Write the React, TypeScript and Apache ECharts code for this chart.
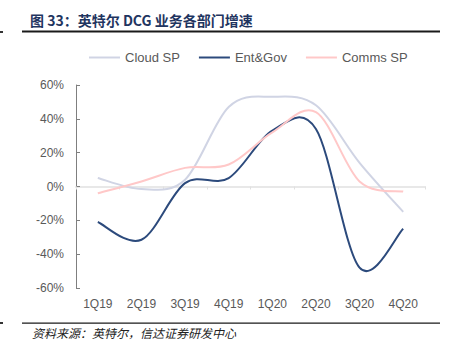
import React, { useEffect, useRef } from "react";
import * as echarts from "echarts";

const categories = ["1Q19", "2Q19", "3Q19", "4Q19", "1Q20", "2Q20", "3Q20", "4Q20"];
const cloudSP = [5, -1.5, 4, 47, 53, 48, 14, -15];
const entGov = [-21, -31.5, 2, 5, 33, 34, -48, -25];
const commsSP = [-4, 3, 11, 13, 32, 44, 3, -3];
const yTicks = [-60, -40, -20, 0, 20, 40, 60];

const TITLE = "图 33：英特尔 DCG 业务各部门增速";
const SOURCE = "资料来源：英特尔，信达证券研发中心";

function smoothPath(pts: number[][]): string {
  const n = pts.length;
  let d = `M${pts[0][0]},${pts[0][1]}`;
  for (let i = 0; i < n - 1; i++) {
    const p0 = pts[Math.max(0, i - 1)];
    const p1 = pts[i];
    const p2 = pts[i + 1];
    const p3 = pts[Math.min(n - 1, i + 2)];
    const c1x = p1[0] + (p2[0] - p0[0]) / 6;
    const c1y = p1[1] + (p2[1] - p0[1]) / 6;
    const c2x = p2[0] - (p3[0] - p1[0]) / 6;
    const c2y = p2[1] - (p3[1] - p1[1]) / 6;
    d += ` C${c1x},${c1y} ${c2x},${c2y} ${p2[0]},${p2[1]}`;
  }
  return d;
}

function curveSeries(name: string, values: number[], color: string) {
  return {
    name,
    type: "custom",
    xAxisIndex: 0,
    yAxisIndex: 0,
    data: values.map((v, i) => [i, v]),
    itemStyle: { color },
    renderItem: (params: any, api: any) => {
      if (params.dataIndex !== 0) return null;
      const pts = values.map((v, i) => api.coord([i, v]));
      return {
        type: "path",
        shape: { pathData: smoothPath(pts) },
        style: { stroke: color, lineWidth: 2, fill: "none" },
        silent: true,
      };
    },
  };
}

export default function App() {
  const ref = useRef<HTMLDivElement>(null);
  useEffect(() => {
    document.body.style.margin = "0";
    const chart = echarts.init(ref.current!, null, { renderer: "svg" });
    const font = "Helvetica, Arial, 'Liberation Sans', sans-serif";
    chart.setOption({
      animation: false,
      textStyle: { fontFamily: font },
      legend: {
        top: 46,
        left: 84,
        itemWidth: 31,
        itemHeight: 2,
        itemGap: 19,
        icon: "rect",
        textStyle: { fontSize: 13, color: "#595959", fontFamily: font },
        data: ["Cloud SP", "Ent&Gov", "Comms SP"],
      },
      grid: { left: 76, right: 29, top: 85, bottom: 69 },
      xAxis: [
        {
          type: "category",
          data: categories,
          axisLine: { show: false, onZero: false },
          axisTick: { show: false },
          axisLabel: { fontSize: 12, color: "#595959", margin: 10 },
        },
        {
          type: "category",
          data: categories,
          axisLine: { show: true, onZero: true, lineStyle: { color: "#e8e8e8", width: 2 } },
          axisTick: { show: true, inside: true, length: 3, lineStyle: { color: "#e0e0e0", width: 1 } },
          axisLabel: { show: false },
        },
      ],
      yAxis: {
        type: "value",
        min: yTicks[0],
        max: yTicks[yTicks.length - 1],
        interval: 20,
        splitLine: { show: false },
        axisLine: { show: true, lineStyle: { color: "#7f7f7f", width: 1 } },
        axisTick: { show: true, inside: true, length: 4, lineStyle: { color: "#7f7f7f" } },
        axisLabel: { fontSize: 12, color: "#595959", margin: 12, formatter: "{value}%" },
      },
      series: [
        curveSeries("Cloud SP", cloudSP, "#d0d4e4"),
        curveSeries("Ent&Gov", entGov, "#2c4a7c"),
        curveSeries("Comms SP", commsSP, "#ffc8c8"),
      ],
      graphic: [
        {
          type: "text",
          left: 30,
          top: 13,
          style: {
            text: TITLE,
            fontSize: 14,
            fontWeight: "bold",
            fill: "#1f3560",
            fontFamily: "'Noto Sans CJK SC', sans-serif",
          },
        },
        { type: "rect", shape: { x: 22, y: 30.5, width: 418, height: 2 }, style: { fill: "#1a1a1a" } },
        { type: "rect", shape: { x: 0, y: 31, width: 3, height: 2 }, style: { fill: "#333" } },
        { type: "rect", shape: { x: 22, y: 322.5, width: 418, height: 1.2 }, style: { fill: "#1a1a1a" } },
        { type: "rect", shape: { x: 0, y: 322, width: 3, height: 2 }, style: { fill: "#333" } },
        {
          type: "text",
          left: 32,
          top: 326,
          style: {
            text: SOURCE,
            fontSize: 12,
            fontStyle: "italic",
            fill: "#222",
            fontFamily: "'Noto Sans CJK SC', sans-serif",
          },
        },
      ],
    });
    return () => chart.dispose();
  }, []);
  return <div ref={ref} style={{ width: 454, height: 357 }} />;
}
